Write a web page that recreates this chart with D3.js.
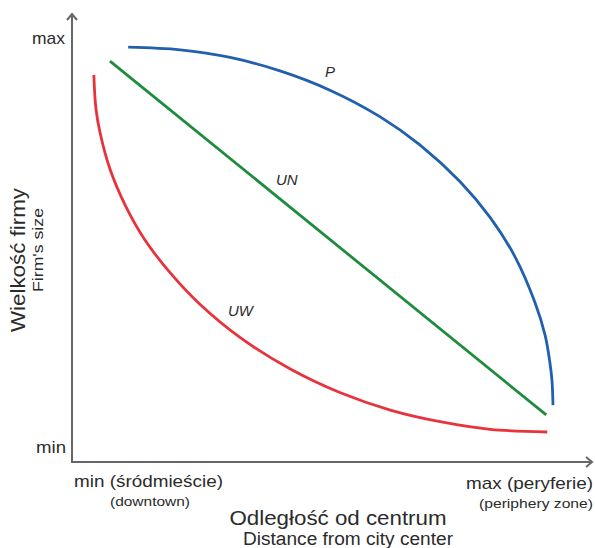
<!DOCTYPE html>
<html>
<head>
<meta charset="utf-8">
<script src="https://cdn.jsdelivr.net/npm/d3@7"></script>
<style>
  html, body { margin: 0; padding: 0; background: #fff; }
  text { font-family: "Liberation Sans", Arial, sans-serif; fill: #2b2b2b; }
</style>
</head>
<body>
<svg id="chart" width="595" height="548"></svg>
<script>
// Data (distance from centre 0..100, firm size 0..100)
const seriesNames = ["P", "UN", "UW"];
const seriesColors = ["#2160ad", "#1e8b3e", "#e8333c"];
const pSeries = [[10.8,92.6],[20.8,92.0],[30.4,90.3],[40.0,87.3],[49.6,83.0],[59.2,77.1],[66.9,70.8],[74.6,62.6],[80.4,54.6],[85.2,45.8],[89.0,35.7],[91.0,28.2],[91.9,22.2],[92.3,18.2],[92.5,12.7]];
const unSeries = [[7.3,89.5],[91.2,10.5]];
const uwSeries = [[4.2,86.4],[4.6,78.9],[5.4,73.5],[7.3,65.4],[10.2,57.4],[14.0,49.6],[18.9,42.2],[24.6,35.2],[32.3,27.8],[41.9,20.8],[51.5,15.5],[61.2,11.6],[70.8,9.0],[80.4,7.3],[91.4,6.7]];
const labelPositions = [[49.6,86.0],[41.3,61.8],[32.4,32.6]];
const yTickLabels = ["max", "min"];
const xTickLabels = [["min (śródmieście)", "(downtown)"], ["max (peryferie)", "(periphery zone)"]];
const yTitle = ["Wielkość firmy", "Firm's size"];
const xTitle = ["Odległość od centrum", "Distance from city center"];

const svg = d3.select("#chart");
const x = d3.scaleLinear().domain([0, 100]).range([72, 592]);
const y = d3.scaleLinear().domain([0, 100]).range([462, 14]);

// Axes with arrows
const axisColor = "#666";
svg.append("line").attr("x1", x(0)).attr("y1", y(0)).attr("x2", x(0)).attr("y2", y(100) + 1)
  .attr("stroke", axisColor).attr("stroke-width", 2);
svg.append("line").attr("x1", x(0) - 1).attr("y1", y(0)).attr("x2", x(100) - 1).attr("y2", y(0))
  .attr("stroke", axisColor).attr("stroke-width", 2);
svg.append("path").attr("d", `M${x(0)-5},${y(100)+6} L${x(0)},${y(100)} L${x(0)+5},${y(100)+6}`)
  .attr("fill", "none").attr("stroke", axisColor).attr("stroke-width", 2);
svg.append("path").attr("d", `M${x(100)-6},${y(0)-5} L${x(100)},${y(0)} L${x(100)-6},${y(0)+5}`)
  .attr("fill", "none").attr("stroke", axisColor).attr("stroke-width", 2);

// Curves
const line = d3.line().x(d => x(d[0])).y(d => y(d[1])).curve(d3.curveCatmullRom.alpha(0.5));
const allSeries = [pSeries, unSeries, uwSeries];
allSeries.forEach((s, i) => {
  svg.append("path").datum(s).attr("d", line)
    .attr("fill", "none").attr("stroke", seriesColors[i]).attr("stroke-width", 2.8)
    .attr("stroke-linecap", "butt");
});

// Curve labels
seriesNames.forEach((n, i) => {
  svg.append("text").attr("x", x(labelPositions[i][0])).attr("y", y(labelPositions[i][1]))
    .attr("text-anchor", "middle").attr("font-style", "italic").attr("font-size", 15)
    .text(n);
});

function label(txt, px, py, size, anchor, len, transform) {
  const t = svg.append("text").attr("font-size", size).attr("text-anchor", anchor)
    .attr("textLength", len).attr("lengthAdjust", "spacingAndGlyphs").text(txt);
  if (transform) t.attr("transform", transform);
  else t.attr("x", px).attr("y", py);
  return t;
}

// Y tick labels
label(yTickLabels[0], 65, 44, 17, "end", 33);
label(yTickLabels[1], 66, 453, 17, "end", 30);

// X tick labels
label(xTickLabels[0][0], 74, 487, 17, "start", 149);
label(xTickLabels[0][1], 150, 506, 13.5, "middle", 80);
label(xTickLabels[1][0], 593, 489, 17, "end", 127);
label(xTickLabels[1][1], 593, 508, 13.5, "end", 114);

// Axis titles
label(yTitle[0], 0, 0, 21, "middle", 144, "translate(25,260) rotate(-90)");
label(yTitle[1], 0, 0, 15.5, "middle", 84, "translate(43,250) rotate(-90)");
label(xTitle[0], 338, 525, 20, "middle", 217);
label(xTitle[1], 348, 545, 18, "middle", 210);
</script>
</body>
</html>
